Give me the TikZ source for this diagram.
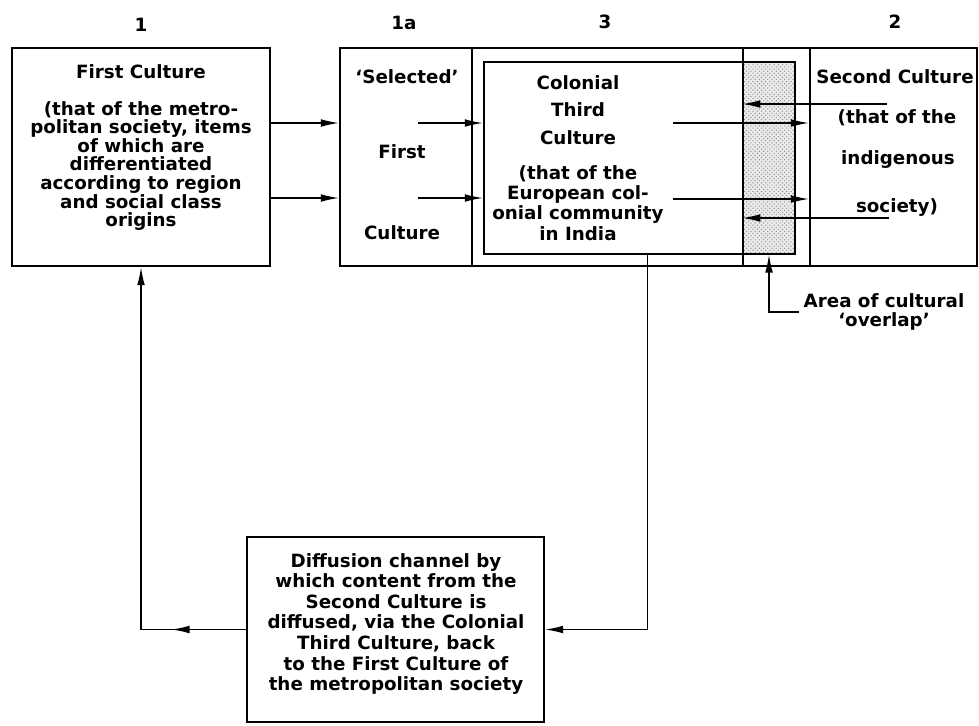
\documentclass[tikz,border=0pt]{standalone}
\usepackage{fontspec}
\setmainfont{DejaVu Sans}
\usetikzlibrary{arrows.meta,patterns,decorations.markings}

\tikzset{
  box/.style={draw, line width=1.3pt, inner sep=0pt},
  txt/.style={font=\bfseries\fontsize{13}{14.4}\selectfont, align=center, inner sep=0pt},
  tighttxt/.style={txt, font=\bfseries\fontsize{13}{13.2}\selectfont},
  arr/.style={line width=1.1pt, -{Latex[length=13pt,width=5.5pt]}},
}

\begin{document}
\begin{tikzpicture}[x=0.025cm, y=-0.025cm]
\useasboundingbox (0,0) rectangle (979,725);

% overlap shading
\node[fill=black!8, postaction={pattern=crosshatch dots, pattern color=black!45},
  minimum width=1.3cm, minimum height=4.8cm, inner sep=0pt] (shade) at (769,158) {};

% boxes
\node[box, minimum width=6.45cm, minimum height=5.45cm] (first) at (141,157) {};
\node[box, minimum width=3.3cm, minimum height=5.45cm] (sel) at (406,157) {};
\node[box, minimum width=6.775cm, minimum height=5.45cm] (colframe) at (607.5,157) {};
\node[box, minimum width=1.675cm, minimum height=5.45cm] (ovcol) at (776.5,157) {};
\node[box, minimum width=4.175cm, minimum height=5.45cm] (second) at (893.5,157) {};
\node[box, minimum width=7.775cm, minimum height=4.8cm] (third) at (639.5,158) {};
\node[box, minimum width=7.425cm, minimum height=4.625cm] (diff) at (395.5,629.5) {};

% column numbers
\node[txt] (n1) at (141,25) {1};
\node[txt] (n1a) at (404,23) {1a};
\node[txt] (n3) at (605,22) {3};
\node[txt] (n2) at (895,22) {2};

% first culture
\node[txt] (fc) at (141,72) {First Culture};
\node[tighttxt] (fcdesc) at (141,166) {(that of the metro-\\politan society, items\\of which are\\differentiated\\according to region\\and social class\\origins};

% selected first culture
\node[txt] (selA) at (407,77) {`Selected'};
\node[txt] (selB) at (402,152) {First};
\node[txt] (selC) at (402,233) {Culture};

% colonial third culture
\node[txt] (tcA) at (578,110) {Colonial\\[5.2pt]Third\\[5.2pt]Culture};
\node[txt] (tcB) at (578,203) {(that of the\\European col-\\onial community\\in India};

% second culture
\node[txt] (scA) at (895,77) {Second Culture};
\node[txt] (scB) at (897,118) {(that of the};
\node[txt] (scC) at (898,160) {indigenous};
\node[txt] (scD) at (897,208) {society)};

% diffusion channel
\node[txt, font=\bfseries\fontsize{13}{14.6}\selectfont] (difftxt) at (396,624) {Diffusion channel by\\which content from the\\Second Culture is\\diffused, via the Colonial\\Third Culture, back\\to the First Culture of\\the metropolitan society};

% overlap label
\node[txt, font=\bfseries\fontsize{13}{14}\selectfont] (ovl) at (884,312) {Area of cultural\\`overlap'};

% arrow rows
\coordinate (rowA) at (0,123);
\coordinate (rowB) at (0,198);
\coordinate (a1) at (418,123);
\coordinate (a2) at (418,198);
\coordinate (b1) at (673,123);
\coordinate (b2) at (673,199);
\coordinate (c1) at (887,104);
\coordinate (c2) at (889,218);

\draw[arr] (first.east |- rowA) -- (sel.west |- rowA);
\draw[arr] (first.east |- rowB) -- (sel.west |- rowB);
\draw[arr] (a1) -- (third.west |- a1);
\draw[arr] (a2) -- (third.west |- a2);
\draw[arr] (b1) -- (second.west |- b1);
\draw[arr] (b2) -- (second.west |- b2);
\draw[arr] (c1) -- (ovcol.west |- c1);
\draw[arr] (c2) -- (ovcol.west |- c2);

% diffusion back to first culture
\draw[arr, postaction={decorate}, decoration={markings,
  mark=at position 0.16 with {\arrow{Latex[length=13pt,width=5.5pt]}}}]
  (diff.west) -| (first.south);
\draw[arr] ([xshift=0.2cm]third.south) |- (diff.east);

% pointer to overlap
\draw[arr] ([xshift=-3pt]ovl.west) -| (shade.south);
\end{tikzpicture}
\end{document}
